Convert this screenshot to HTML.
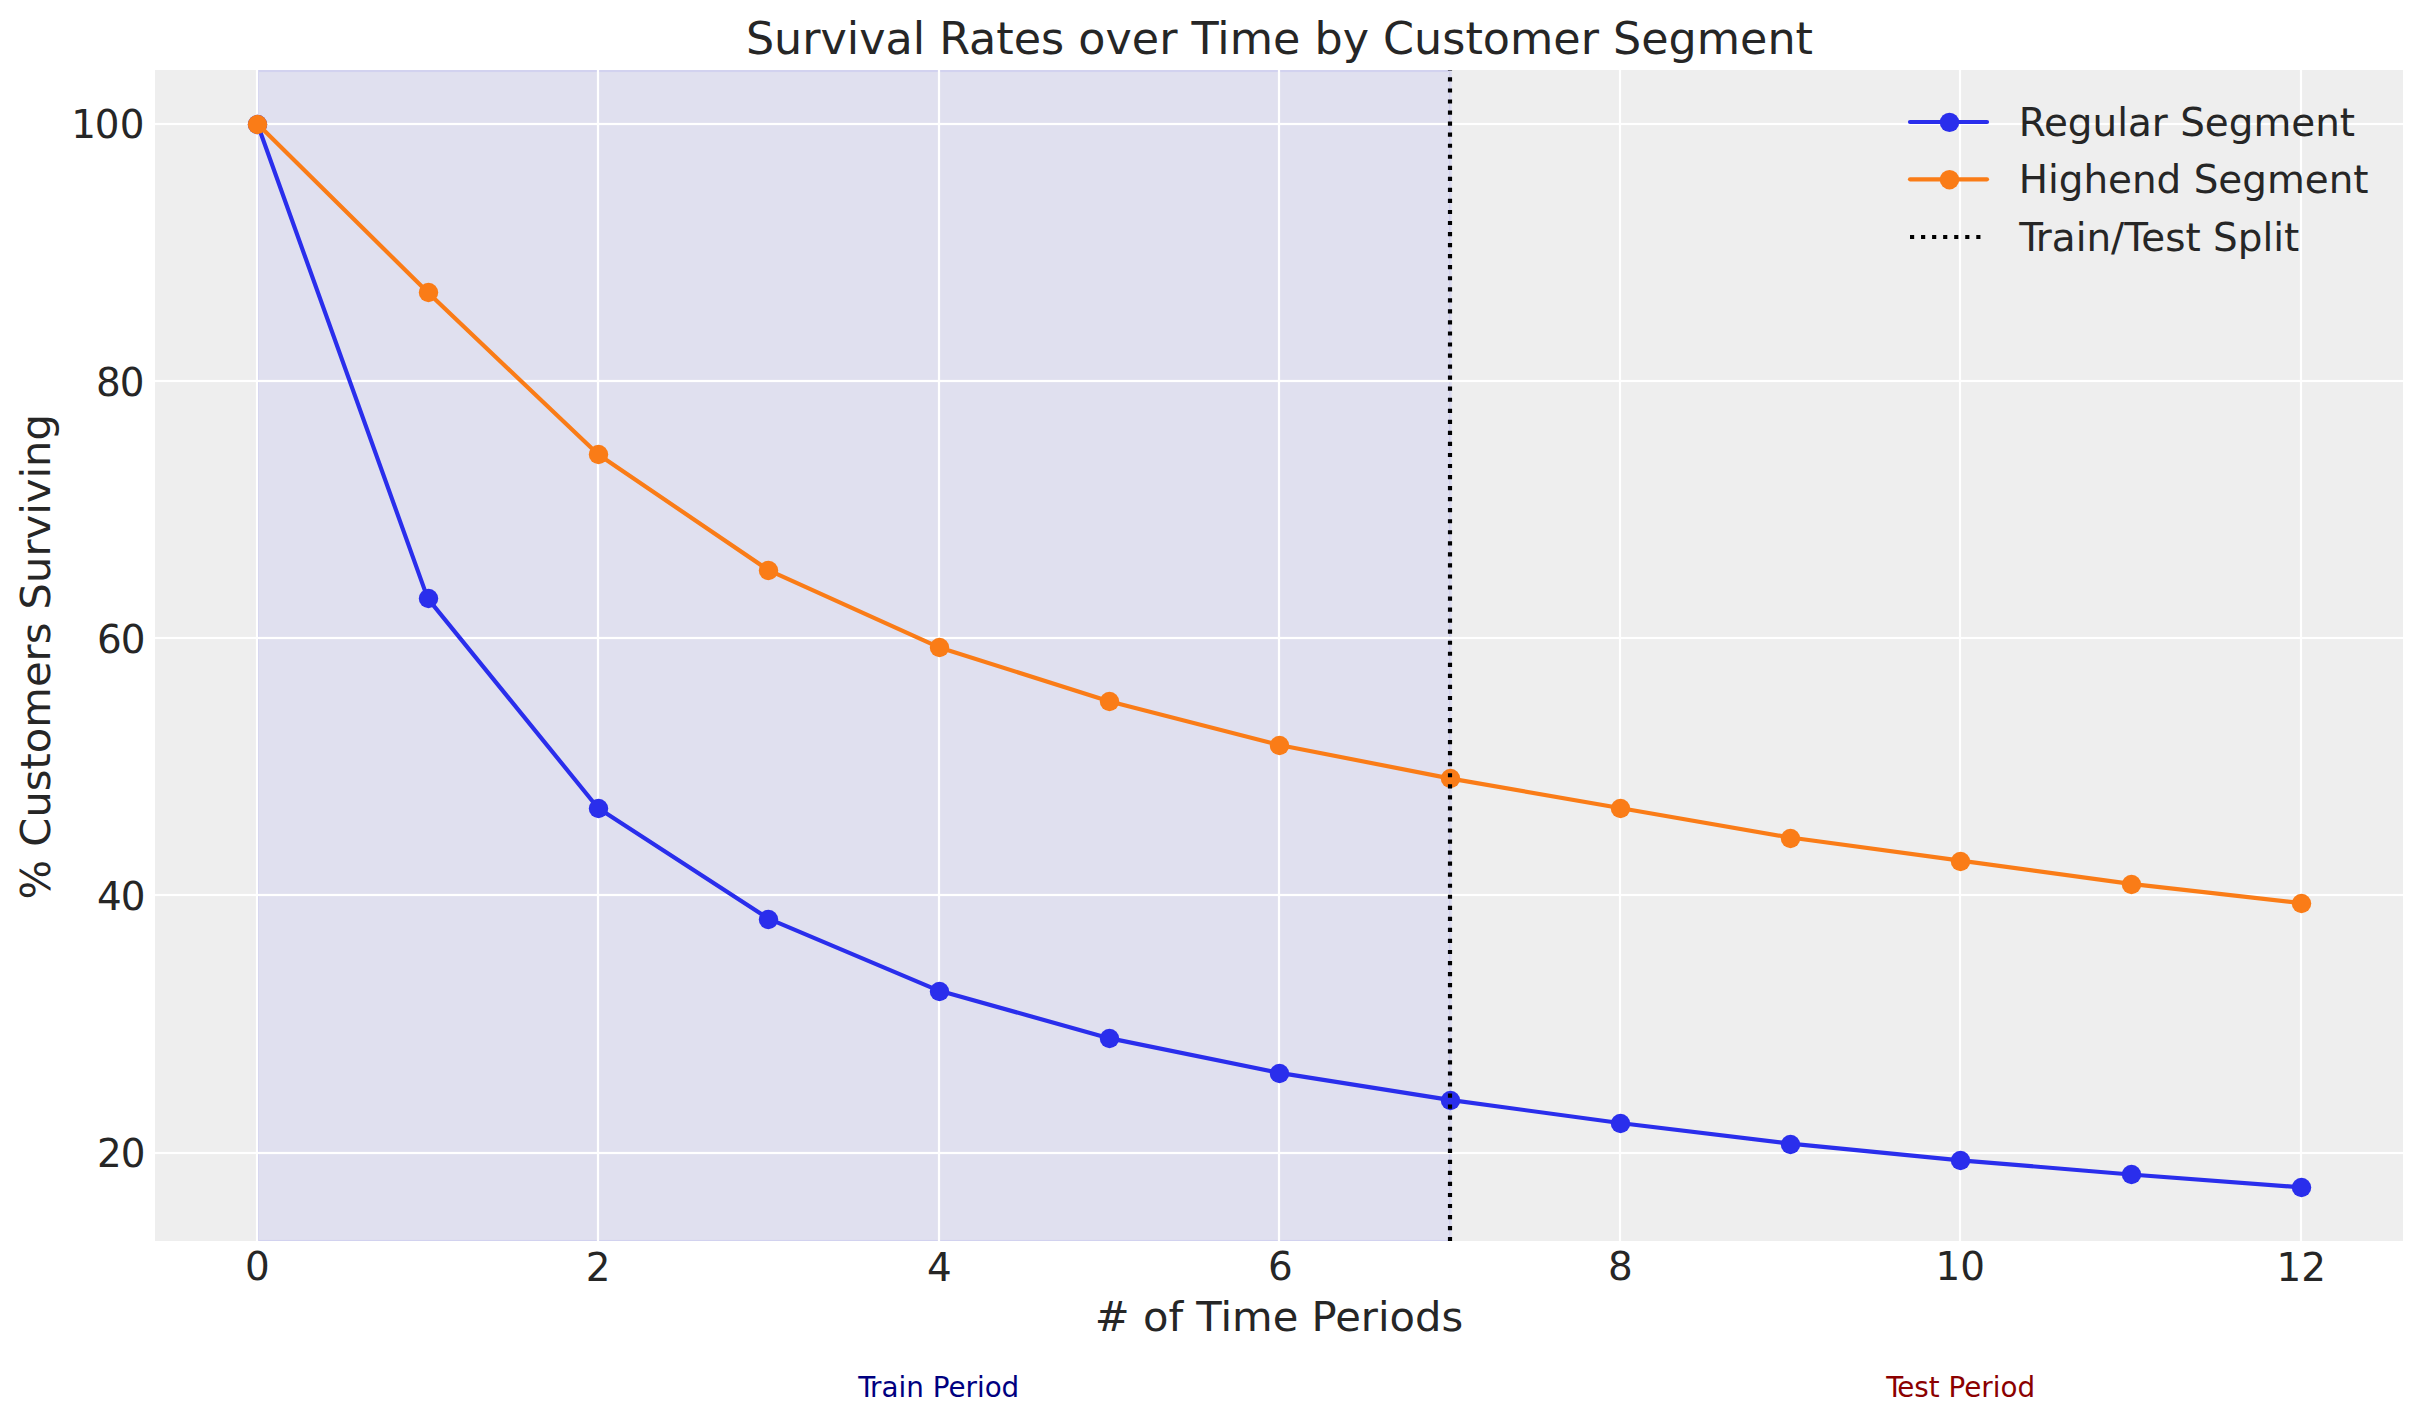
<!DOCTYPE html>
<html lang="en"><head><meta charset="utf-8"><title>Survival Rates over Time by Customer Segment</title>
<style>
html,body{margin:0;padding:0;background:#fff;}
body{width:2423px;height:1423px;overflow:hidden;}
svg{display:block;}
text{font-family:"DejaVu Sans","Liberation Sans",sans-serif;fill:#262626;}
.tick{font-size:38.89px;}
.lab{font-size:41.67px;}
.ttl{font-size:44.44px;}
.leg{font-size:38.89px;}
.note{font-size:27.78px;}
</style></head><body>
<svg width="2423" height="1423" viewBox="0 0 2423 1423">
<defs><clipPath id="ax"><rect x="155" y="70" width="2248" height="1171.00"/></clipPath></defs>
<rect x="0" y="0" width="2423" height="1423" fill="#ffffff"/>
<rect x="155" y="70" width="2248" height="1171.00" fill="#eeeeee"/>
<g clip-path="url(#ax)">
<g fill="#0000ff" fill-opacity="0.06"><rect x="257" y="70" width="1193.4" height="1171"/><rect x="257" y="70" width="1195.07" height="2.08"/><rect x="257" y="1239.9" width="1195.07" height="1.1"/><rect x="257" y="72.08" width="2.1" height="1167.82"/><rect x="1449" y="72.08" width="3.07" height="1167.82"/></g>
<g fill="#ffffff"><rect x="255.89" y="70" width="2.22" height="1171.00"/><rect x="596.89" y="70" width="2.22" height="1171.00"/><rect x="937.89" y="70" width="2.22" height="1171.00"/><rect x="1277.89" y="70" width="2.22" height="1171.00"/><rect x="1618.89" y="70" width="2.22" height="1171.00"/><rect x="1958.89" y="70" width="2.22" height="1171.00"/><rect x="2299.89" y="70" width="2.22" height="1171.00"/><rect x="155" y="1151.89" width="2248.00" height="2.22"/><rect x="155" y="893.89" width="2248.00" height="2.22"/><rect x="155" y="636.89" width="2248.00" height="2.22"/><rect x="155" y="379.89" width="2248.00" height="2.22"/><rect x="155" y="122.89" width="2248.00" height="2.22"/></g>
<polyline points="257.39,123.80 427.70,598.33 598.01,807.95 768.32,918.55 938.63,990.56 1108.94,1038.15 1279.25,1072.87 1449.56,1099.87 1619.87,1123.02 1790.18,1143.60 1960.49,1160.32 2130.80,1174.46 2301.11,1187.32" fill="none" stroke="#2a2eec" stroke-width="4.17" stroke-linecap="round" stroke-linejoin="round"/><g fill="#2a2eec"><circle cx="257.5" cy="124.5" r="9.72"/><circle cx="428.5" cy="598.5" r="9.72"/><circle cx="598.5" cy="808.5" r="9.72"/><circle cx="768.5" cy="919.5" r="9.72"/><circle cx="939.5" cy="991.5" r="9.72"/><circle cx="1109.5" cy="1038.5" r="9.72"/><circle cx="1279.5" cy="1073.5" r="9.72"/><circle cx="1450.5" cy="1100.5" r="9.72"/><circle cx="1620.5" cy="1123.5" r="9.72"/><circle cx="1790.5" cy="1144.5" r="9.72"/><circle cx="1960.5" cy="1160.5" r="9.72"/><circle cx="2131.5" cy="1174.5" r="9.72"/><circle cx="2301.5" cy="1187.5" r="9.72"/></g>
<polyline points="257.39,123.80 427.70,292.27 598.01,454.30 768.32,570.04 938.63,647.20 1108.94,701.21 1279.25,744.94 1449.56,778.37 1619.87,807.95 1790.18,837.53 1960.49,860.68 2130.80,883.83 2301.11,903.12" fill="none" stroke="#fa7c17" stroke-width="4.17" stroke-linecap="round" stroke-linejoin="round"/><g fill="#fa7c17"><circle cx="257.5" cy="124.5" r="9.72"/><circle cx="428.5" cy="292.5" r="9.72"/><circle cx="598.5" cy="454.5" r="9.72"/><circle cx="768.5" cy="570.5" r="9.72"/><circle cx="939.5" cy="647.5" r="9.72"/><circle cx="1109.5" cy="701.5" r="9.72"/><circle cx="1279.5" cy="745.5" r="9.72"/><circle cx="1450.5" cy="778.5" r="9.72"/><circle cx="1620.5" cy="808.5" r="9.72"/><circle cx="1790.5" cy="838.5" r="9.72"/><circle cx="1960.5" cy="861.5" r="9.72"/><circle cx="2131.5" cy="884.5" r="9.72"/><circle cx="2301.5" cy="903.5" r="9.72"/></g>
<line x1="1450" y1="1241.25" x2="1450" y2="65" stroke="#000000" stroke-width="4.17" stroke-dasharray="4.17 6.875"/>
</g>
<text class="tick" x="257.39" y="1280" text-anchor="middle">0</text>
<text class="tick" x="598.01" y="1281" text-anchor="middle">2</text>
<text class="tick" x="939.33" y="1281" text-anchor="middle">4</text>
<text class="tick" x="1280.35" y="1280" text-anchor="middle">6</text>
<text class="tick" x="1620.47" y="1280" text-anchor="middle">8</text>
<text class="tick" x="1960.19" y="1280" text-anchor="middle">10</text>
<text class="tick" x="2301.31" y="1281" text-anchor="middle">12</text>
<text class="tick" x="71.2 94.65 119.76" y="138">100</text>
<text class="tick" x="95.97 119.76" y="396">80</text>
<text class="tick" x="97.0 120.76" y="653">60</text>
<text class="tick" x="96.9 120.76" y="910">40</text>
<text class="tick" x="96.9 120.76" y="1167">20</text>
<text class="ttl" x="1279.45" y="54" text-anchor="middle">Survival Rates over Time by Customer Segment</text>
<text class="lab" x="1278.95" y="1331" text-anchor="middle"># of Time Periods</text>
<text class="lab" transform="translate(50 656.8) rotate(-90)" text-anchor="middle">% Customers Surviving</text>
<line x1="1910.0" y1="122.0" x2="1987.0" y2="122.0" stroke="#2a2eec" stroke-width="4.17" stroke-linecap="round"/><circle cx="1949.5" cy="122.4" r="9.72" fill="#2a2eec"/>
<text class="leg" x="2018.7" y="136.0">Regular Segment</text>
<line x1="1910.0" y1="179.3" x2="1987.0" y2="179.3" stroke="#fa7c17" stroke-width="4.17" stroke-linecap="round"/><circle cx="1949.5" cy="179.7" r="9.72" fill="#fa7c17"/>
<text class="leg" x="2018.7" y="193">Highend Segment</text>
<line x1="1910.0" y1="237" x2="1987.0" y2="237" stroke="#000000" stroke-width="4.17" stroke-dasharray="4.17 6.875"/>
<text class="leg" x="2019.3" y="251" dx="0 -1.5">Train/Test Split</text>
<text class="note" x="938.73" y="1397" dx="0 -1.0" text-anchor="middle" style="fill:#000080">Train Period</text>
<text class="note" x="1960.59" y="1397" dx="0 -1.2" text-anchor="middle" style="fill:#8b0000">Test Period</text>
</svg></body></html>
